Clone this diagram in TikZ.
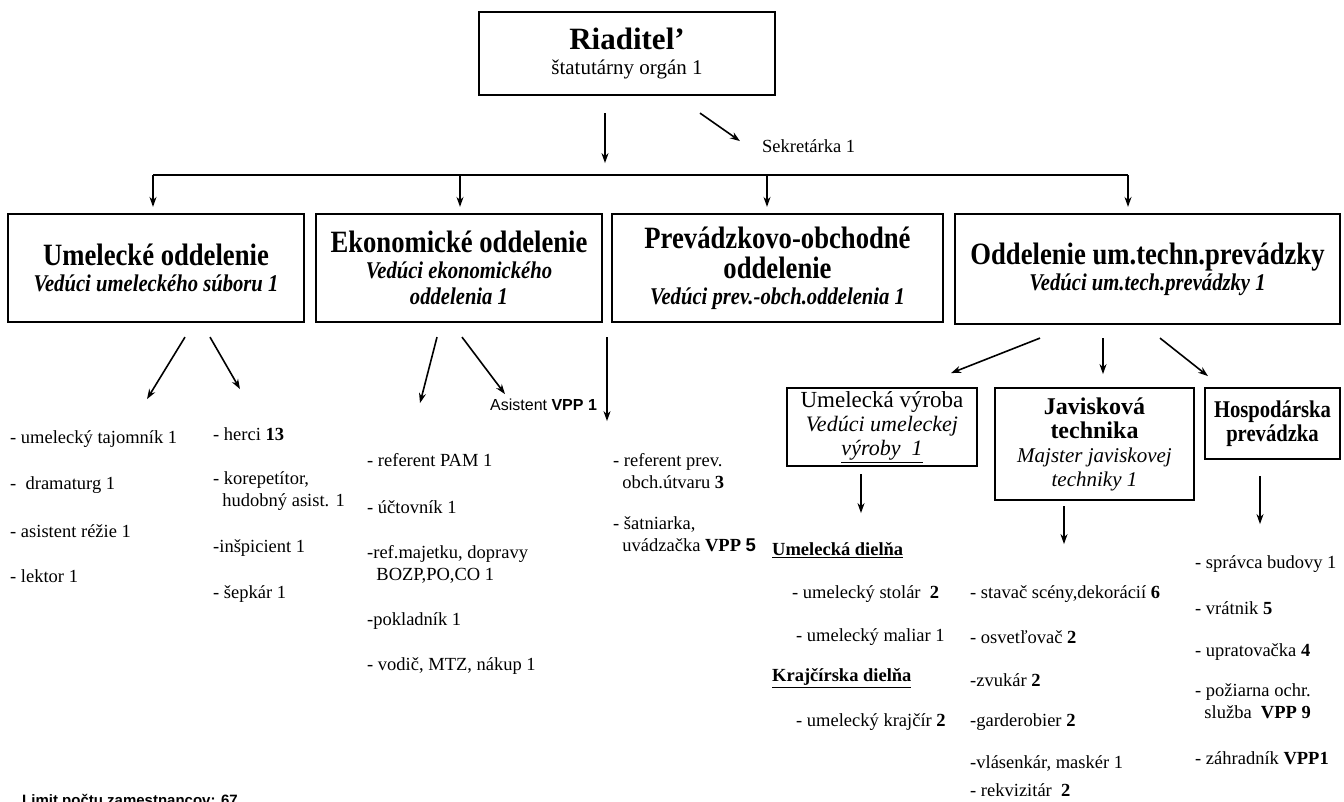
\documentclass[tikz,border=0pt]{standalone}
\usepackage{fontspec}
\setmainfont{Liberation Serif}
\setsansfont{Liberation Sans}
\newfontfamily\narrowserif[FakeStretch=0.86]{Liberation Serif}
\usetikzlibrary{arrows.meta}

\newcommand{\orgname}[1]{{\narrowserif\bfseries\fontsize{31}{34}\selectfont #1}}
\newcommand{\orghead}[1]{{\narrowserif\bfseries\itshape\fontsize{24}{26}\selectfont #1}}

\tikzset{
  orgbox/.style={draw, line width=2.2pt, inner sep=0pt, align=center, font=\fontsize{12}{26}\selectfont},
  subbox/.style={orgbox, font=\fontsize{12}{24}\selectfont},
  item/.style={anchor=west, inner sep=0pt, align=left, font=\fontsize{18.5}{22}\selectfont},
  arr/.style={-{Stealth[length=10pt,width=7pt]}, line width=1.6pt},
}

\begin{document}
\begin{tikzpicture}[x=1pt, y=-1pt]
\useasboundingbox (0,0) rectangle (1344,801);

\node[orgbox, minimum width=296pt, minimum height=83pt] (dir) at (627,53.5)
  {{\bfseries\fontsize{31}{34}\selectfont Riaditel’}\\[-1pt]{\fontsize{21}{24}\selectfont štatutárny orgán 1}};
\node[item] (sekr) at (762,146) {Sekretárka 1};
\draw[arr] ([shift={(-22,17)}]dir.south) -- ++(0,50);
\draw[arr] ([shift={(73,17)}]dir.south) -- ++(40,28);

\node[orgbox, minimum width=296pt, minimum height=108pt] (umel) at (156,268)
  {\orgname{Umelecké oddelenie}\\\orghead{Vedúci umeleckého súboru 1}};
\node[orgbox, minimum width=286pt, minimum height=108pt] (ekon) at (459,268)
  {\orgname{Ekonomické oddelenie}\\\orghead{Vedúci ekonomického}\\\orghead{oddelenia 1}};
\node[orgbox, minimum width=331pt, minimum height=108pt] (prev) at (777.5,268)
  {\orgname{Prevádzkovo-obchodné}\\[4pt]\orgname{oddelenie}\\\orghead{Vedúci prev.-obch.oddelenia 1}};
\node[orgbox, minimum width=385pt, minimum height=110pt] (tech) at (1147.5,269)
  {\orgname{Oddelenie um.techn.prevádzky}\\\orghead{Vedúci um.tech.prevádzky 1}};

\coordinate (tap1) at (153,175);
\coordinate (tap2) at (460,175);
\coordinate (tap3) at (767,175);
\coordinate (tap4) at (1128,175);
\draw[line width=1.6pt] (tap1) -- (tap4);
\foreach \t/\n in {tap1/umel, tap2/ekon, tap3/prev, tap4/tech}
  \draw[arr, shorten >=6pt] (\t) -- (\t |- \n.north);

\draw[arr] ([shift={(29,14)}]umel.south) -- ++(-38,62);
\draw[arr] ([shift={(54,14)}]umel.south) -- ++(30,52);
\draw[arr] ([shift={(-22,14)}]ekon.south) -- ++(-17,66);
\draw[arr] ([shift={(3,14)}]ekon.south) -- ++(43,57);
\draw[arr] ([shift={(-170.5,14)}]prev.south) -- ++(0,84);
\draw[arr] ([shift={(-107.5,13)}]tech.south) -- ++(-89,35);
\draw[arr] ([shift={(-44.5,13)}]tech.south) -- ++(0,36);
\draw[arr] ([shift={(12.5,13)}]tech.south) -- ++(48,38);

\node[item] (u1) at (10,439) {- umelecký tajomník 1};
\node[item] (u2) at (10,485) {-\ \ dramaturg 1};
\node[item] (u3) at (10,531) {- asistent réžie 1};
\node[item] (u4) at (10,576) {- lektor 1};

\node[item] (h1) at (213,434) {- herci \textbf{13}};
\node[item] (h2) at (213,491) {- korepetítor,\\\ \ hudobný asist. 1};
\node[item] (h3) at (213,548) {-inšpicient 1};
\node[item] (h4) at (213,594) {- šepkár 1};

\node[item, font=\sffamily\fontsize{16}{20}\selectfont] (asist) at (490,405) {Asistent \textbf{VPP 1}};
\node[item] (e1) at (367,460) {- referent PAM 1};
\node[item] (e2) at (367,507) {- účtovník 1};
\node[item] (e3) at (367,564) {-ref.majetku, dopravy\\\ \ BOZP,PO,CO 1};
\node[item] (e4) at (367,621) {-pokladník 1};
\node[item] (e5) at (367,666) {- vodič, MTZ, nákup 1};

\node[item] (p1) at (613,471) {- referent prev.\\\ \ obch.útvaru \textbf{3}};
\node[item] (p2) at (613,534) {- šatniarka,\\\ \ uvádzačka \textbf{VPP} {\sffamily\bfseries 5}};

\node[subbox, minimum width=190pt, minimum height=78pt] (vyr) at (882,427)
  {{\fontsize{23}{25}\selectfont Umelecká výroba}\\{\itshape\fontsize{22}{24}\selectfont Vedúci umeleckej}\\{\itshape\fontsize{22}{24}\selectfont\underline{výroby\ \ 1}}};
\node[subbox, minimum width=199pt, minimum height=112pt] (jav) at (1094.5,444)
  {{\bfseries\fontsize{24}{26}\selectfont Javisková}\\{\bfseries\fontsize{24}{26}\selectfont technika}\\{\itshape\fontsize{21}{24}\selectfont Majster javiskovej}\\{\itshape\fontsize{21}{24}\selectfont techniky 1}};
\node[subbox, minimum width=135pt, minimum height=71pt] (hosp) at (1272.5,423.5)
  {{\narrowserif\bfseries\fontsize{24}{26}\selectfont Hospodárska}\\{\narrowserif\bfseries\fontsize{24}{26}\selectfont prevádzka}};

\draw[arr] ([shift={(-21,7)}]vyr.south) -- ++(0,39);
\draw[arr] ([shift={(-30.5,5)}]jav.south) -- ++(0,38);
\draw[arr] ([shift={(-12.5,16)}]hosp.south) -- ++(0,48);

\node[item] (d1) at (772,550) {\underline{\textbf{Umelecká dielňa}}};
\node[item] (d2) at (792,594) {- umelecký stolár\ \ \textbf{2}};
\node[item] (d3) at (796,637) {- umelecký maliar 1};
\node[item] (d4) at (772,678) {\underline{\textbf{Krajčírska dielňa}}};
\node[item] (d5) at (796,722) {- umelecký krajčír \textbf{2}};

\node[item] (j1) at (970,594) {- stavač scény,dekorácií \textbf{6}};
\node[item] (j2) at (970,637) {- osvetľovač \textbf{2}};
\node[item] (j3) at (970,680) {-zvukár \textbf{2}};
\node[item] (j4) at (970,722) {-garderobier \textbf{2}};
\node[item] (j5) at (970,763) {-vlásenkár, maskér 1};
\node[item] (j6) at (970,790) {- rekvizitár\ \ \textbf{2}};

\node[item] (s1) at (1195,564) {- správca budovy 1};
\node[item] (s2) at (1195,608) {- vrátnik \textbf{5}};
\node[item] (s3) at (1195,652) {- upratovačka \textbf{4}};
\node[item] (s4) at (1195,701) {- požiarna ochr.\\\ \ služba\ \ \textbf{VPP 9}};
\node[item] (s5) at (1195,758) {- záhradník \textbf{VPP1}};

\node[anchor=north west, inner sep=0pt, font=\sffamily\bfseries\fontsize{15}{18}\selectfont] (limit) at (22,794) {Limit počtu zamestnancov: 67};
\end{tikzpicture}
\end{document}
